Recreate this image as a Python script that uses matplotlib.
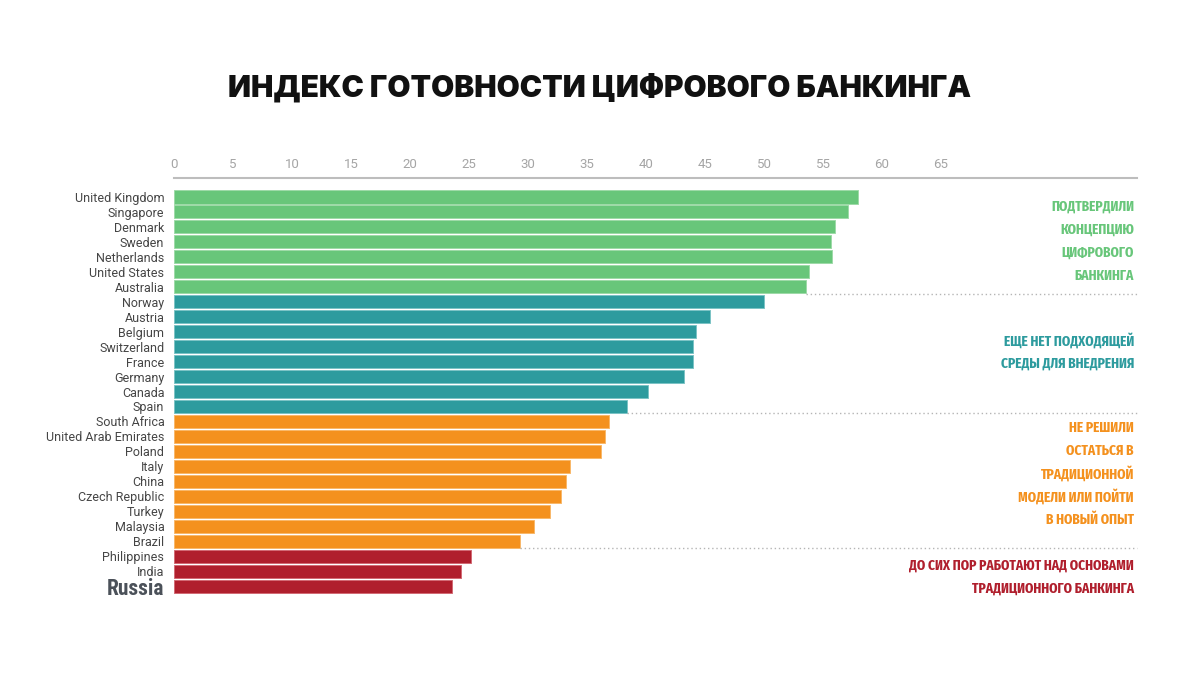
import matplotlib
matplotlib.use("Agg")
import matplotlib.pyplot as plt

countries = ["United Kingdom", "Singapore", "Denmark", "Sweden", "Netherlands",
             "United States", "Australia", "Norway", "Austria", "Belgium",
             "Switzerland", "France", "Germany", "Canada", "Spain",
             "South Africa", "United Arab Emirates", "Poland", "Italy", "China",
             "Czech Republic", "Turkey", "Malaysia", "Brazil", "Philippines",
             "India", "Russia"]
scores = [58.0, 57.1, 56.0, 55.7, 55.8, 53.8, 53.6, 50.0, 45.4, 44.2,
          44.0, 44.0, 43.2, 40.2, 38.4, 36.9, 36.5, 36.2, 33.6, 33.2,
          32.8, 31.9, 30.5, 29.3, 25.2, 24.3, 23.6]
group_sizes = [7, 8, 9, 3]
group_colors = ["#68c67a", "#2d9b9e", "#f4911e", "#b01f2d"]
group_edges = ["#9edaa8", "#7cc3c5", "#f8b86a", "#d26a74"]
group_notes = [
    ["ПОДТВЕРДИЛИ", "КОНЦЕПЦИЮ", "ЦИФРОВОГО", "БАНКИНГА"],
    ["ЕЩЕ НЕТ ПОДХОДЯЩЕЙ", "СРЕДЫ ДЛЯ ВНЕДРЕНИЯ"],
    ["НЕ РЕШИЛИ", "ОСТАТЬСЯ В", "ТРАДИЦИОННОЙ", "МОДЕЛИ ИЛИ ПОЙТИ", "В НОВЫЙ ОПЫТ"],
    ["ДО СИХ ПОР РАБОТАЮТ НАД ОСНОВАМИ", "ТРАДИЦИОННОГО БАНКИНГА"],
]
note_top_px = [207, 341, 428, 566]
ticks = list(range(0, 70, 5))

W, H = 1200, 675
fig = plt.figure(figsize=(12, 6.75), dpi=100)
ax = fig.add_axes([174 / W, 1 - 595 / H, (1137 - 174) / W, 417 / H])

colors, edges = [], []
for size, c, e in zip(group_sizes, group_colors, group_edges):
    colors += [c] * size
    edges += [e] * size

ypos = list(range(len(countries)))
ax.barh(ypos, scores, height=0.87, color=colors, edgecolor=edges, linewidth=0.7)

xmax = (1137 - 174) / 11.8
ax.set_xlim(0, xmax)
ax.set_ylim(26.6, -1.27)

# dotted separators after each group (except last)
idx = 0
for size in group_sizes[:-1]:
    idx += size
    last = idx - 1
    ax.plot([scores[last], xmax], [last + 0.46, last + 0.46], linestyle=(0, (1, 2)),
            color="#b5b5b5", linewidth=1.0, clip_on=False)

ax.xaxis.tick_top()
ax.set_xticks(ticks)
ax.tick_params(axis="x", length=0, pad=5, labelsize=9.5, labelcolor="#a5a5a5")
for lbl in ax.get_xticklabels():
    lbl.set_fontfamily("Roboto")

ax.set_yticks(ypos)
ax.set_yticklabels(countries, fontfamily="Roboto", fontsize=9, color="#454545")
ax.tick_params(axis="y", length=0, pad=7)
rl = ax.get_yticklabels()[-1]
rl.set_fontsize(15.5)
rl.set_fontweight("bold")
rl.set_fontfamily(["Roboto Condensed", "Roboto"])
rl.set_color("#4b5159")

for s in ["left", "right", "bottom"]:
    ax.spines[s].set_visible(False)
ax.spines["top"].set_color("#bdbdbd")
ax.spines["top"].set_linewidth(1.5)

fig.text(0.5, 1 - 88 / H, "ИНДЕКС ГОТОВНОСТИ ЦИФРОВОГО БАНКИНГА",
         ha="center", va="center", fontsize=21.5, fontweight=900,
         fontfamily=["Inter", "DejaVu Sans"], color="#111111")

for lines, top, c in zip(group_notes, note_top_px, group_colors):
    for i, line in enumerate(lines):
        fig.text(1134 / W, 1 - (top + i * 23) / H, line, ha="right", va="center",
                 fontsize=10.5, fontweight=700, color=c,
                 fontfamily=["Fira Sans Extra Condensed", "DejaVu Sans"])

fig.savefig("out.png", dpi=100)
